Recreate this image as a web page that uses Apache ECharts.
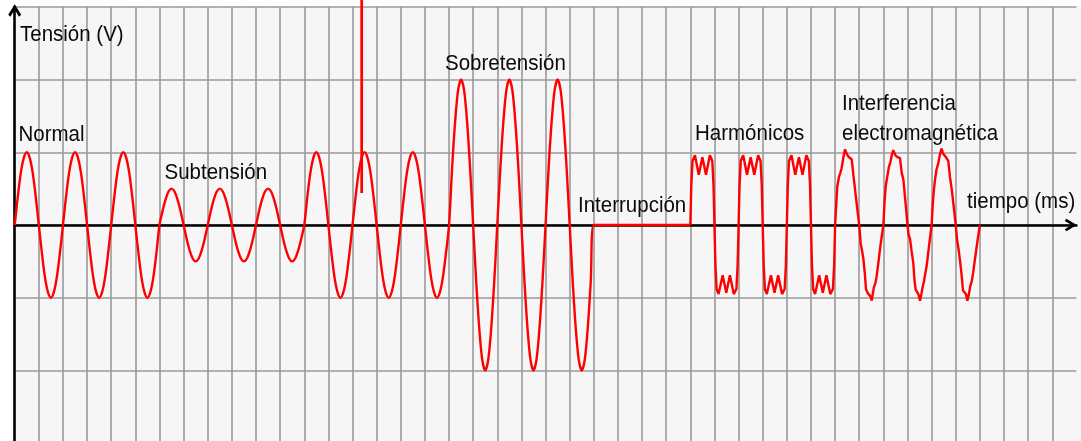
<!DOCTYPE html>
<html><head><meta charset="utf-8">
<script src="https://cdn.jsdelivr.net/npm/echarts@6/dist/echarts.min.js"></script>
<style>html,body{margin:0;padding:0;background:#fff}#c{width:1081px;height:441px}</style>
</head><body><div id="c"></div>
<script>
// ---- data (x in grid cells, y in grid units) ----
const STEP = 0.125;
const normalStart = 0;
const normalWave = [
  0,.38,.71,.92,1,.92,.71,.38,0,-.38,-.71,-.92,-1,-.92,-.71,-.38,
  0,.38,.71,.92,1,.92,.71,.38,0,-.38,-.71,-.92,-1,-.92,-.71,-.38,
  0,.38,.71,.92,1,.92,.71,.38,0,-.38,-.71,-.92,-1,-.92,-.71,-.38,0];
const sagStart = 6;
const sagWave = [
  0,.19,.35,.46,.5,.46,.35,.19,0,-.19,-.35,-.46,-.5,-.46,-.35,-.19,
  0,.19,.35,.46,.5,.46,.35,.19,0,-.19,-.35,-.46,-.5,-.46,-.35,-.19,
  0,.19,.35,.46,.5,.46,.35,.19,0,-.19,-.35,-.46,-.5,-.46,-.35,-.19,0];
const normal2Start = 12;
const normal2Wave = [
  0,.38,.71,.92,1,.92,.71,.38,0,-.38,-.71,-.92,-1,-.92,-.71,-.38,
  0,.38,.71,.92,1,.92,.71,.38,0,-.38,-.71,-.92,-1,-.92,-.71,-.38,
  0,.38,.71,.92,1,.92,.71,.38,0,-.38,-.71,-.92,-1,-.92,-.71,-.38,0];
const swellStart = 18;
const swellWave = [
  0,.77,1.41,1.85,2,1.85,1.41,.77,0,-.77,-1.41,-1.85,-2,-1.85,-1.41,-.77,
  0,.77,1.41,1.85,2,1.85,1.41,.77,0,-.77,-1.41,-1.85,-2,-1.85,-1.41,-.77,
  0,.77,1.41,1.85,2,1.85,1.41,.77,0,-.77,-1.41,-1.85,-2,-1.85,-1.41,-.77,0];
const interruption = [[24,0],[28,0]];
const harmonics = [
  [28,0],[28.04,.55],[28.09,.88],[28.19,.96],[28.35,.69],[28.5,.93],[28.65,.69],[28.81,.96],[28.91,.88],[28.96,.55],
  [29,0],[29.04,-.55],[29.09,-.88],[29.17,-.95],[29.34,-.69],[29.49,-.93],[29.64,-.69],[29.8,-.95],[29.91,-.88],[29.96,-.55],
  [30,0],[30.04,.55],[30.09,.88],[30.19,.96],[30.35,.69],[30.5,.93],[30.65,.69],[30.81,.96],[30.91,.88],[30.96,.55],
  [31,0],[31.04,-.55],[31.09,-.88],[31.17,-.95],[31.34,-.69],[31.49,-.93],[31.64,-.69],[31.8,-.95],[31.91,-.88],[31.96,-.55],
  [32,0],[32.04,.55],[32.09,.88],[32.19,.96],[32.35,.69],[32.5,.93],[32.65,.69],[32.81,.96],[32.91,.88],[32.96,.55],
  [33,0],[33.04,-.55],[33.09,-.88],[33.17,-.95],[33.34,-.69],[33.49,-.93],[33.64,-.69],[33.8,-.95],[33.91,-.88],[33.96,-.55],
  [34,0]];
const interference = [
  [34,0],[34.05,.3],[34.09,.53],[34.16,.66],[34.22,.72],[34.27,.78],[34.34,.92],[34.41,1.04],[34.48,.98],[34.55,.94],[34.62,.93],[34.69,.9],[34.76,.68],[34.83,.48],[34.92,.22],
  [35,0],[35.06,-.25],[35.12,-.36],[35.17,-.46],[35.23,-.66],[35.28,-.88],[35.34,-.93],[35.4,-.91],[35.46,-.98],[35.52,-1.04],[35.57,-.93],[35.61,-.85],[35.67,-.8],[35.72,-.71],[35.8,-.5],[35.88,-.28],
  [36,0],[36.05,.32],[36.1,.54],[36.17,.68],[36.23,.8],[36.29,.86],[36.35,.96],[36.41,1.03],[36.48,.97],[36.55,.94],[36.62,.94],[36.69,.92],[36.76,.72],[36.83,.62],[36.92,.3],
  [37,0],[37.05,-.14],[37.1,-.18],[37.17,-.36],[37.24,-.52],[37.29,-.76],[37.34,-.89],[37.4,-.92],[37.45,-.95],[37.52,-1.04],[37.58,-.94],[37.63,-.85],[37.68,-.78],[37.72,-.7],[37.8,-.55],[37.88,-.32],
  [38,0],[38.05,.3],[38.1,.5],[38.14,.62],[38.2,.76],[38.27,.84],[38.34,.96],[38.41,1.05],[38.48,.98],[38.55,.96],[38.62,.92],[38.69,.88],[38.76,.66],[38.83,.5],[38.92,.24],
  [39,0],[39.06,-.22],[39.12,-.34],[39.18,-.5],[39.24,-.68],[39.3,-.9],[39.36,-.92],[39.42,-.95],[39.48,-1.04],[39.54,-.96],[39.6,-.84],[39.66,-.78],[39.72,-.66],[39.8,-.46],[39.9,-.22],
  [40,0]];
const spike = [[14.38,3.1],[14.38,0.44]];
const xTicksMax = 44;
const yTicks = [-3, 3];

const labels = [
  {text:'Tensión (V)', x:20, y:23.3},
  {text:'Normal', x:18.5, y:123.3},
  {text:'Subtensión', x:164.5, y:161.6},
  {text:'Sobretensión', x:445, y:52.6},
  {text:'Interrupción', x:578, y:194.6},
  {text:'Harmónicos', x:695, y:122.3},
  {text:'Interferencia', x:842, y:92.3},
  {text:'electromagnética', x:842, y:122.3},
  {text:'tiempo (ms)', x:967, y:189.9}
];

function seg(start, arr){ return arr.map((v,i)=>[start + i*STEP, v]); }
const sineData = [].concat(
  seg(normalStart, normalWave),
  seg(sagStart, sagWave).slice(1),
  seg(normal2Start, normal2Wave).slice(1),
  seg(swellStart, swellWave).slice(1),
  interruption.slice(1)
);

const RED = '#ff0000';
const arrow = 'path://M5,0 L10,8.2 L8.3,9.6 L5,4 L1.7,9.6 L0,8.2 Z';
const chart = echarts.init(document.getElementById('c'), null, {renderer:'canvas'});
chart.setOption({
  animation:false,
  backgroundColor:'#ffffff',
  grid:{left:14.7, right:4.6, top:6.75, bottom:-2.25, show:true, backgroundColor:'#f6f6f6', borderWidth:0, containLabel:false, outerBoundsMode:'none'},
  xAxis:{type:'value', min:0, max:xTicksMax, interval:1,
    axisLine:{show:true, onZero:true, symbol:['none', arrow], symbolSize:[15,12], symbolOffset:[0,-5.7], lineStyle:{color:'#000', width:2.6}},
    axisTick:{show:false}, axisLabel:{show:false},
    splitLine:{show:true, showMinLine:false, showMaxLine:false, lineStyle:{color:'#9a9a9a', width:1.6}}},
  yAxis:{type:'value', min:yTicks[0], max:yTicks[1], interval:1,
    axisLine:{show:true, onZero:false, symbol:['none', arrow], symbolSize:[13,13], symbolOffset:[0,-3.7], lineStyle:{color:'#000', width:2.6}},
    axisTick:{show:false}, axisLabel:{show:false},
    splitLine:{show:true, lineStyle:{color:'#9a9a9a', width:1.6}}},
  graphic:[
    {type:'rect', shape:{x:1076.4, y:6, width:5, height:436}, style:{fill:'#f6f6f6'}, z:-1, silent:true},
    ...labels.map(l=>({type:'text', x:l.x, y:l.y, scaleY:1.1, z:10,
      style:{text:l.text, fill:'#0a0a0a', font:'20.5px "Liberation Sans", Arial, sans-serif', verticalAlign:'top', align:'left'}}))
  ],
  series:[
    {type:'line', data:sineData, showSymbol:false, smooth:0.3, lineStyle:{color:RED, width:2.4}, z:5},
    {type:'line', data:harmonics, showSymbol:false, smooth:false, lineStyle:{color:RED, width:2.4}, z:5},
    {type:'line', data:interference, showSymbol:false, smooth:false, lineStyle:{color:RED, width:2.4}, z:5},
    {type:'line', data:spike, showSymbol:false, clip:false, lineStyle:{color:RED, width:2.7}, z:6}
  ]
});
</script></body></html>
